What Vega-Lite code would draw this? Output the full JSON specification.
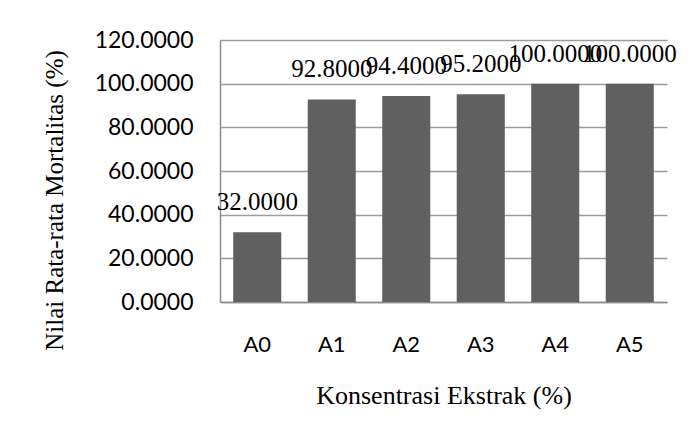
{
  "$schema": "https://vega.github.io/schema/vega-lite/v6.json",
  "autosize": {"type": "none"},
  "width": 447,
  "height": 262,
  "padding": {"left": 220, "top": 40, "right": 26, "bottom": 138},
  "background": "white",
  "data": {"values": [
    {"perlakuan": "A0", "mortalitas": 32.0},
    {"perlakuan": "A1", "mortalitas": 92.8},
    {"perlakuan": "A2", "mortalitas": 94.4},
    {"perlakuan": "A3", "mortalitas": 95.2},
    {"perlakuan": "A4", "mortalitas": 100.0},
    {"perlakuan": "A5", "mortalitas": 100.0}
  ]},
  "encoding": {
    "x": {
      "field": "perlakuan", "type": "nominal", "sort": null,
      "scale": {"paddingInner": 0.355, "paddingOuter": 0.1775},
      "axis": {
        "title": "Konsentrasi Ekstrak (%)",
        "labelAngle": 0,
        "labelFont": "Lato", "labelFontSize": 22, "labelColor": "#000000",
        "labelPadding": 32,
        "ticks": false,
        "domainColor": "#8c8c8c", "domainWidth": 1.5,
        "titleFont": "Liberation Serif", "titleFontSize": 26, "titleFontWeight": "normal",
        "titleColor": "#000000", "titlePadding": 27
      }
    },
    "y": {
      "field": "mortalitas", "type": "quantitative",
      "scale": {"domain": [0, 120], "nice": false},
      "axis": {
        "title": "Nilai Rata-rata Mortalitas (%)",
        "values": [0, 20, 40, 60, 80, 100, 120],
        "format": ".4f",
        "labelFont": "Lato", "labelFontSize": 23, "labelColor": "#000000",
        "labelPadding": 27,
        "ticks": false,
        "domainColor": "#8c8c8c", "domainWidth": 1.5,
        "grid": true, "gridColor": "#9c9c9c", "gridWidth": 1.5,
        "titleFont": "Liberation Serif", "titleFontSize": 25, "titleFontWeight": "normal",
        "titleColor": "#000000", "titlePadding": 27, "titleY": 160
      }
    }
  },
  "layer": [
    {"mark": {"type": "bar", "color": "#606060"}},
    {
      "mark": {"type": "text", "font": "Liberation Serif", "fontSize": 25, "color": "#000000", "baseline": "middle", "dy": -30},
      "encoding": {"text": {"field": "mortalitas", "type": "quantitative", "format": ".4f"}}
    }
  ],
  "config": {"view": {"stroke": null}}
}
